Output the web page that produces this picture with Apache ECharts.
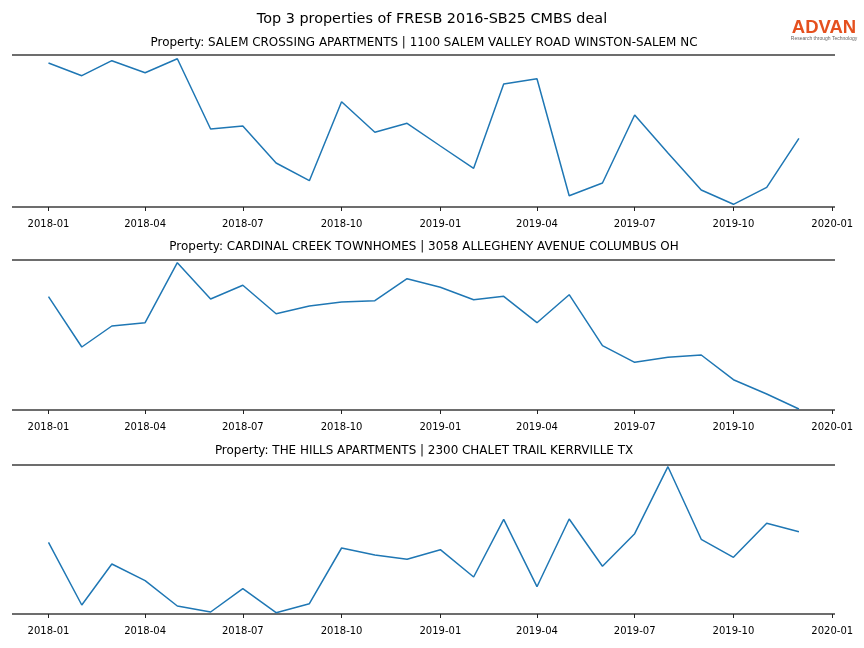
<!DOCTYPE html>
<html>
<head>
<meta charset="utf-8">
<script src="https://cdn.jsdelivr.net/npm/echarts@6/dist/echarts.min.js"></script>
<style>html,body{margin:0;padding:0;background:#fff}#c{width:864px;height:648px}</style>
</head>
<body>
<div id="c"></div>
<script>
const months = ['2018-01','2018-02','2018-03','2018-04','2018-05','2018-06','2018-07','2018-08','2018-09','2018-10','2018-11','2018-12',
                '2019-01','2019-02','2019-03','2019-04','2019-05','2019-06','2019-07','2019-08','2019-09','2019-10','2019-11','2019-12'];
const tickLabels = ['2018-01','2018-04','2018-07','2018-10','2019-01','2019-04','2019-07','2019-10','2020-01'];
const chartTitle = 'Top 3 properties of FRESB 2016-SB25 CMBS deal';
const panelTitles = [
  'Property: SALEM CROSSING APARTMENTS | 1100 SALEM VALLEY ROAD WINSTON-SALEM NC',
  'Property: CARDINAL CREEK TOWNHOMES | 3058 ALLEGHENY AVENUE COLUMBUS OH',
  'Property: THE HILLS APARTMENTS | 2300 CHALET TRAIL KERRVILLE TX'
];
const salemValues = [144, 131.3, 146.3, 134.3, 148.3, 78, 81, 44, 26.3, 105.3, 74.7, 83.7,
                     61, 38.7, 123, 128.3, 11.3, 24, 92, 54, 17, 2.7, 19.7, 68.7];
const cardinalValues = [113.3, 63, 84, 87.3, 147.3, 111, 124.7, 96.3, 104, 108, 109.3, 131.3,
                        122.7, 110.3, 113.7, 87.3, 115.3, 64.3, 47.7, 52.7, 55, 30.3, 16, 1];
const hillsValues = [71.7, 9, 50, 33.3, 8, 2, 25.3, 1.3, 10.3, 66, 59, 54.7,
                     64.3, 37, 94.7, 27.3, 95, 47.7, 80.3, 147.3, 74.7, 56.7, 90.7, 82.3];
const yMax = [152, 150, 149];

function ts(m) { const p = m.split('-'); return Date.UTC(+p[0], +p[1] - 1, 1); }
const DAY = 86400000;
const xMin = ts('2018-01') - 34.0 * DAY;
const xMax = ts('2020-01') + 2.6 * DAY;
const tickTs = tickLabels.map(ts);

const tops = [55, 260, 465];
const allVals = [salemValues, cardinalValues, hillsValues];
const font = '"DejaVu Sans", sans-serif';

function fmt(v) {
  const d = new Date(v); const mm = d.getUTCMonth() + 1;
  return d.getUTCFullYear() + '-' + (mm < 10 ? '0' : '') + mm;
}

const grids = [], xAxes = [], yAxes = [], series = [];
for (let i = 0; i < 3; i++) {
  grids.push({ left: 12, right: 29, top: tops[i], height: yMax[i] });
  xAxes.push({
    type: 'value', gridIndex: i, min: xMin, max: xMax, offset: 6,
    axisLine: { show: false },
    axisTick: { show: true, length: 4, customValues: tickTs, lineStyle: { color: '#222', width: 1 } },
    axisLabel: { show: true, customValues: tickTs, margin: 6.5, fontSize: 10, color: '#000', fontFamily: font,
      formatter: fmt, hideOverlap: false },
    splitLine: { show: false }
  });
  yAxes.push({
    type: 'value', gridIndex: i, min: 0, max: yMax[i], interval: yMax[i],
    axisLine: { show: false }, axisTick: { show: false }, axisLabel: { show: false },
    splitLine: { show: true, lineStyle: { color: '#3c3c3c', width: 1.6 } }
  });
  series.push({
    type: 'line', xAxisIndex: i, yAxisIndex: i, showSymbol: false, symbol: 'none',
    lineStyle: { color: '#1f77b4', width: 1.5 },
    data: months.map((m, k) => [ts(m), allVals[i][k]])
  });
}

const graphic = [
  { type: 'text', x: 432, y: 19.5, style: { text: chartTitle, align: 'center', verticalAlign: 'middle', font: '14.4px ' + font, fill: '#000' } }
];
const subY = [42.5, 246.5, 450.5];
for (let i = 0; i < 3; i++) {
  graphic.push({ type: 'text', x: 424, y: subY[i], style: { text: panelTitles[i], align: 'center', verticalAlign: 'middle', font: '11.95px ' + font, fill: '#000' } });
}
graphic.push({ type: 'text', x: 824, y: 27.5, style: { text: 'ADVAN', align: 'center', verticalAlign: 'middle', font: 'bold 18.5px "Liberation Sans", sans-serif', fill: '#e5501e' } });
graphic.push({ type: 'text', x: 824, y: 38.5, style: { text: 'Research through Technology', align: 'center', verticalAlign: 'middle', font: '5px "Liberation Sans", sans-serif', fill: '#666' } });

const chart = echarts.init(document.getElementById('c'), null, { renderer: 'canvas' });
chart.setOption({
  animation: false,
  backgroundColor: '#fff',
  grid: grids, xAxis: xAxes, yAxis: yAxes, series: series, graphic: graphic
});
</script>
</body>
</html>
